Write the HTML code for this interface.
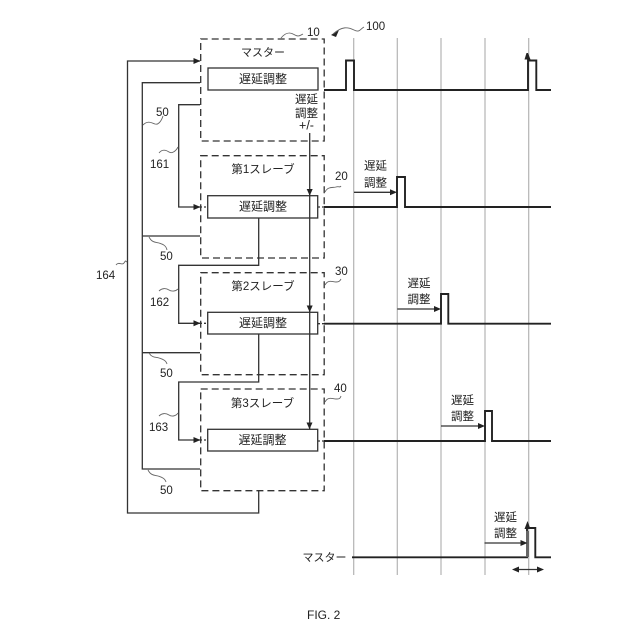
<!DOCTYPE html>
<html><head><meta charset="utf-8"><style>
html,body{margin:0;padding:0;background:#fff;width:640px;height:640px;overflow:hidden}
svg{display:block}
text{font-family:"Liberation Sans","Noto Sans CJK JP",sans-serif;fill:#222}
.n{font-size:11.5px}
.j{font-size:11.5px;text-anchor:middle}
.g{stroke:#b4b4b4;stroke-width:1.2;fill:none}
.d{fill:none;stroke:#333;stroke-width:1.3;stroke-dasharray:7 4}
.b{fill:#fff;stroke:#333;stroke-width:1.3}
.l{fill:none;stroke:#333;stroke-width:1.3}
.w{fill:none;stroke:#222;stroke-width:1.9}
.s{fill:none;stroke:#666;stroke-width:0.9}
.a{fill:#222}
</style></head><body>
<svg width="640" height="640" viewBox="0 0 640 640" xmlns="http://www.w3.org/2000/svg">
<!-- grid -->
<path class="g" d="M353.7 38V575M397.3 38V575M441 38V575M485 38V575M528.7 38V575"/>
<!-- dashed boxes -->
<rect class="d" x="200.7" y="39" width="123.5" height="102"/>
<rect class="d" x="200.7" y="155.7" width="123.5" height="102.3"/>
<rect class="d" x="200.7" y="272.7" width="123.5" height="102"/>
<rect class="d" x="200.7" y="389" width="123.5" height="101.7"/>
<!-- connectors -->
<path class="l" d="M200 61H127.500V513H258.700V491"/>
<path class="l" d="M200 82.700H142.300V469H200M142.300 236H200M142.300 352.700H200"/>
<path class="l" d="M200 104.700H178.700V207H200"/>
<path class="l" d="M258.700 218V265.300H178.700V323.300H200"/>
<path class="l" d="M258.700 334V382H178.700V440H200"/>
<path class="l" d="M200 207H207.700M200 323.300H207.700M200 440H207.700M318 207H324M318 323.700H324M318 441H324" stroke-dasharray="2 2"/>
<!-- inner boxes -->
<rect class="b" x="208" y="68" width="110" height="22"/>
<rect class="b" x="207.7" y="195.7" width="110" height="22.3"/>
<rect class="b" x="207.7" y="312.3" width="110" height="21.7"/>
<rect class="b" x="207.7" y="429.3" width="110" height="21.7"/>
<!-- vertical signal -->
<path class="l" d="M309.700 133V429"/>
<path class="a" d="M306.700 189H312.700L309.700 195.700Z"/>
<path class="a" d="M306.700 305.500H312.700L309.700 312.300Z"/>
<path class="a" d="M306.500 422.500H312.500L309.500 429.300Z"/>
<!-- left arrowheads -->
<path class="a" d="M193.500 58L200.500 61L193.500 64Z"/>
<path class="a" d="M193.500 204L200.500 207L193.500 210Z"/>
<path class="a" d="M193.500 320.300L200.500 323.300L193.500 326.300Z"/>
<path class="a" d="M193.500 437L200.500 440L193.500 443Z"/>
<!-- waveforms -->
<path class="w" d="M324 90H346V60.500H354V90H528V60.500H536.300V90H551"/>
<path class="w" d="M324 207H397V177H405V207H551"/>
<path class="w" d="M324 323.700H441V294H448.300V323.700H551"/>
<path class="w" d="M324 441H485V411H492V441H551"/>
<path class="w" d="M352 557.300H527V528H535.300V557.300H551"/>
<path d="M527.500 531V557" stroke="#666" stroke-width="3" fill="none"/>
<path class="a" d="M524.500 59.500L526.500 53H528L530.500 59.500Z"/>
<path class="a" d="M524.500 529L527.500 521L530.500 529Z"/>
<!-- delay arrows -->
<path class="l" d="M354 192.300H393M397.300 309H437M441 426H481M484.500 543H523" stroke-width="1"/>
<path class="a" d="M390 189.300L397 192.300L390 195.300Z"/>
<path class="a" d="M434 306L441 309L434 312Z"/>
<path class="a" d="M478 423L485 426L478 429Z"/>
<path class="a" d="M520.500 540L527.500 543L520.500 546Z"/>
<path class="l" d="M514 569.500H541"/>
<path class="a" d="M519 566.500L512 569.500L519 572.500Z"/>
<path class="a" d="M537 566.500L544 569.500L537 572.500Z"/>
<!-- squiggles -->
<path class="s" d="M281 38C286 32 290 32 294 34.500S299 36 303 34"/>
<path class="a" d="M331 35L339 30L336 37Z"/>
<path class="s" d="M333 34C342 26 348 27 354 30S360 29 364 27"/>
<path class="s" d="M143 125C148 120 152 123 155 124S161 122 163 116"/>
<path class="s" d="M159 153C162 149 166 150 169 152S176 151 178 147"/>
<path class="s" d="M149 237C152 243 156 242 159 243S166 245 167 250"/>
<path class="s" d="M325 192C328 186 333 188 336 187S340 188 341 186"/>
<path class="s" d="M325 285C328 279 333 282 336 282S340 281 341 279"/>
<path class="s" d="M325 402C328 396 333 399 336 399S340 399 341 396"/>
<path class="s" d="M149 353C152 358 156 357 159 358S166 360 167 364"/>
<path class="s" d="M159 291C162 288 166 288 169 290S176 291 178 289"/>
<path class="s" d="M159 416C162 413 166 413 169 415S176 416 178 413"/>
<path class="s" d="M148 470C151 476 155 475 158 476S165 478 166 482"/>
<path class="s" d="M116 265C119 261 122 266 124 263S125 261 127 262"/>
<!-- labels -->
<text class="j" x="263" y="56" style="font-size:11px">マスター</text>
<text class="j" x="263" y="83" style="font-size:12px">遅延調整</text>
<text class="j" x="263" y="173" style="font-size:11.500px">第1スレーブ</text>
<text class="j" x="263" y="210.500" style="font-size:12px">遅延調整</text>
<text class="j" x="263" y="290" style="font-size:11.500px">第2スレーブ</text>
<text class="j" x="263" y="327" style="font-size:12px">遅延調整</text>
<text class="j" x="262.500" y="407" style="font-size:11.500px">第3スレーブ</text>
<text class="j" x="262.500" y="444" style="font-size:12px">遅延調整</text>
<text class="j" x="306.500" y="103">遅延</text>
<text class="j" x="306.500" y="117">調整</text>
<text class="j" x="306.500" y="129.500" style="font-size:12.500px">+/-</text>
<text class="j" x="375.500" y="169.500">遅延</text>
<text class="j" x="375.500" y="186.500">調整</text>
<text class="j" x="419" y="287">遅延</text>
<text class="j" x="419" y="303">調整</text>
<text class="j" x="462.500" y="404">遅延</text>
<text class="j" x="462.500" y="420">調整</text>
<text class="j" x="505.500" y="521">遅延</text>
<text class="j" x="505.500" y="537">調整</text>
<text class="j" x="324.500" y="561" style="font-size:11px">マスター</text>
<text class="n" x="307" y="36">10</text>
<text class="n" x="366" y="30">100</text>
<text class="n" x="156" y="116">50</text>
<text class="n" x="150" y="168">161</text>
<text class="n" x="160" y="260">50</text>
<text class="n" x="150" y="306">162</text>
<text class="n" x="160" y="377">50</text>
<text class="n" x="149" y="431">163</text>
<text class="n" x="160" y="494">50</text>
<text class="n" x="96" y="279">164</text>
<text class="n" x="335" y="180">20</text>
<text class="n" x="335" y="275">30</text>
<text class="n" x="334" y="392">40</text>
<text x="307" y="619" style="font-size:12px">FIG. 2</text>
</svg>
</body></html>
